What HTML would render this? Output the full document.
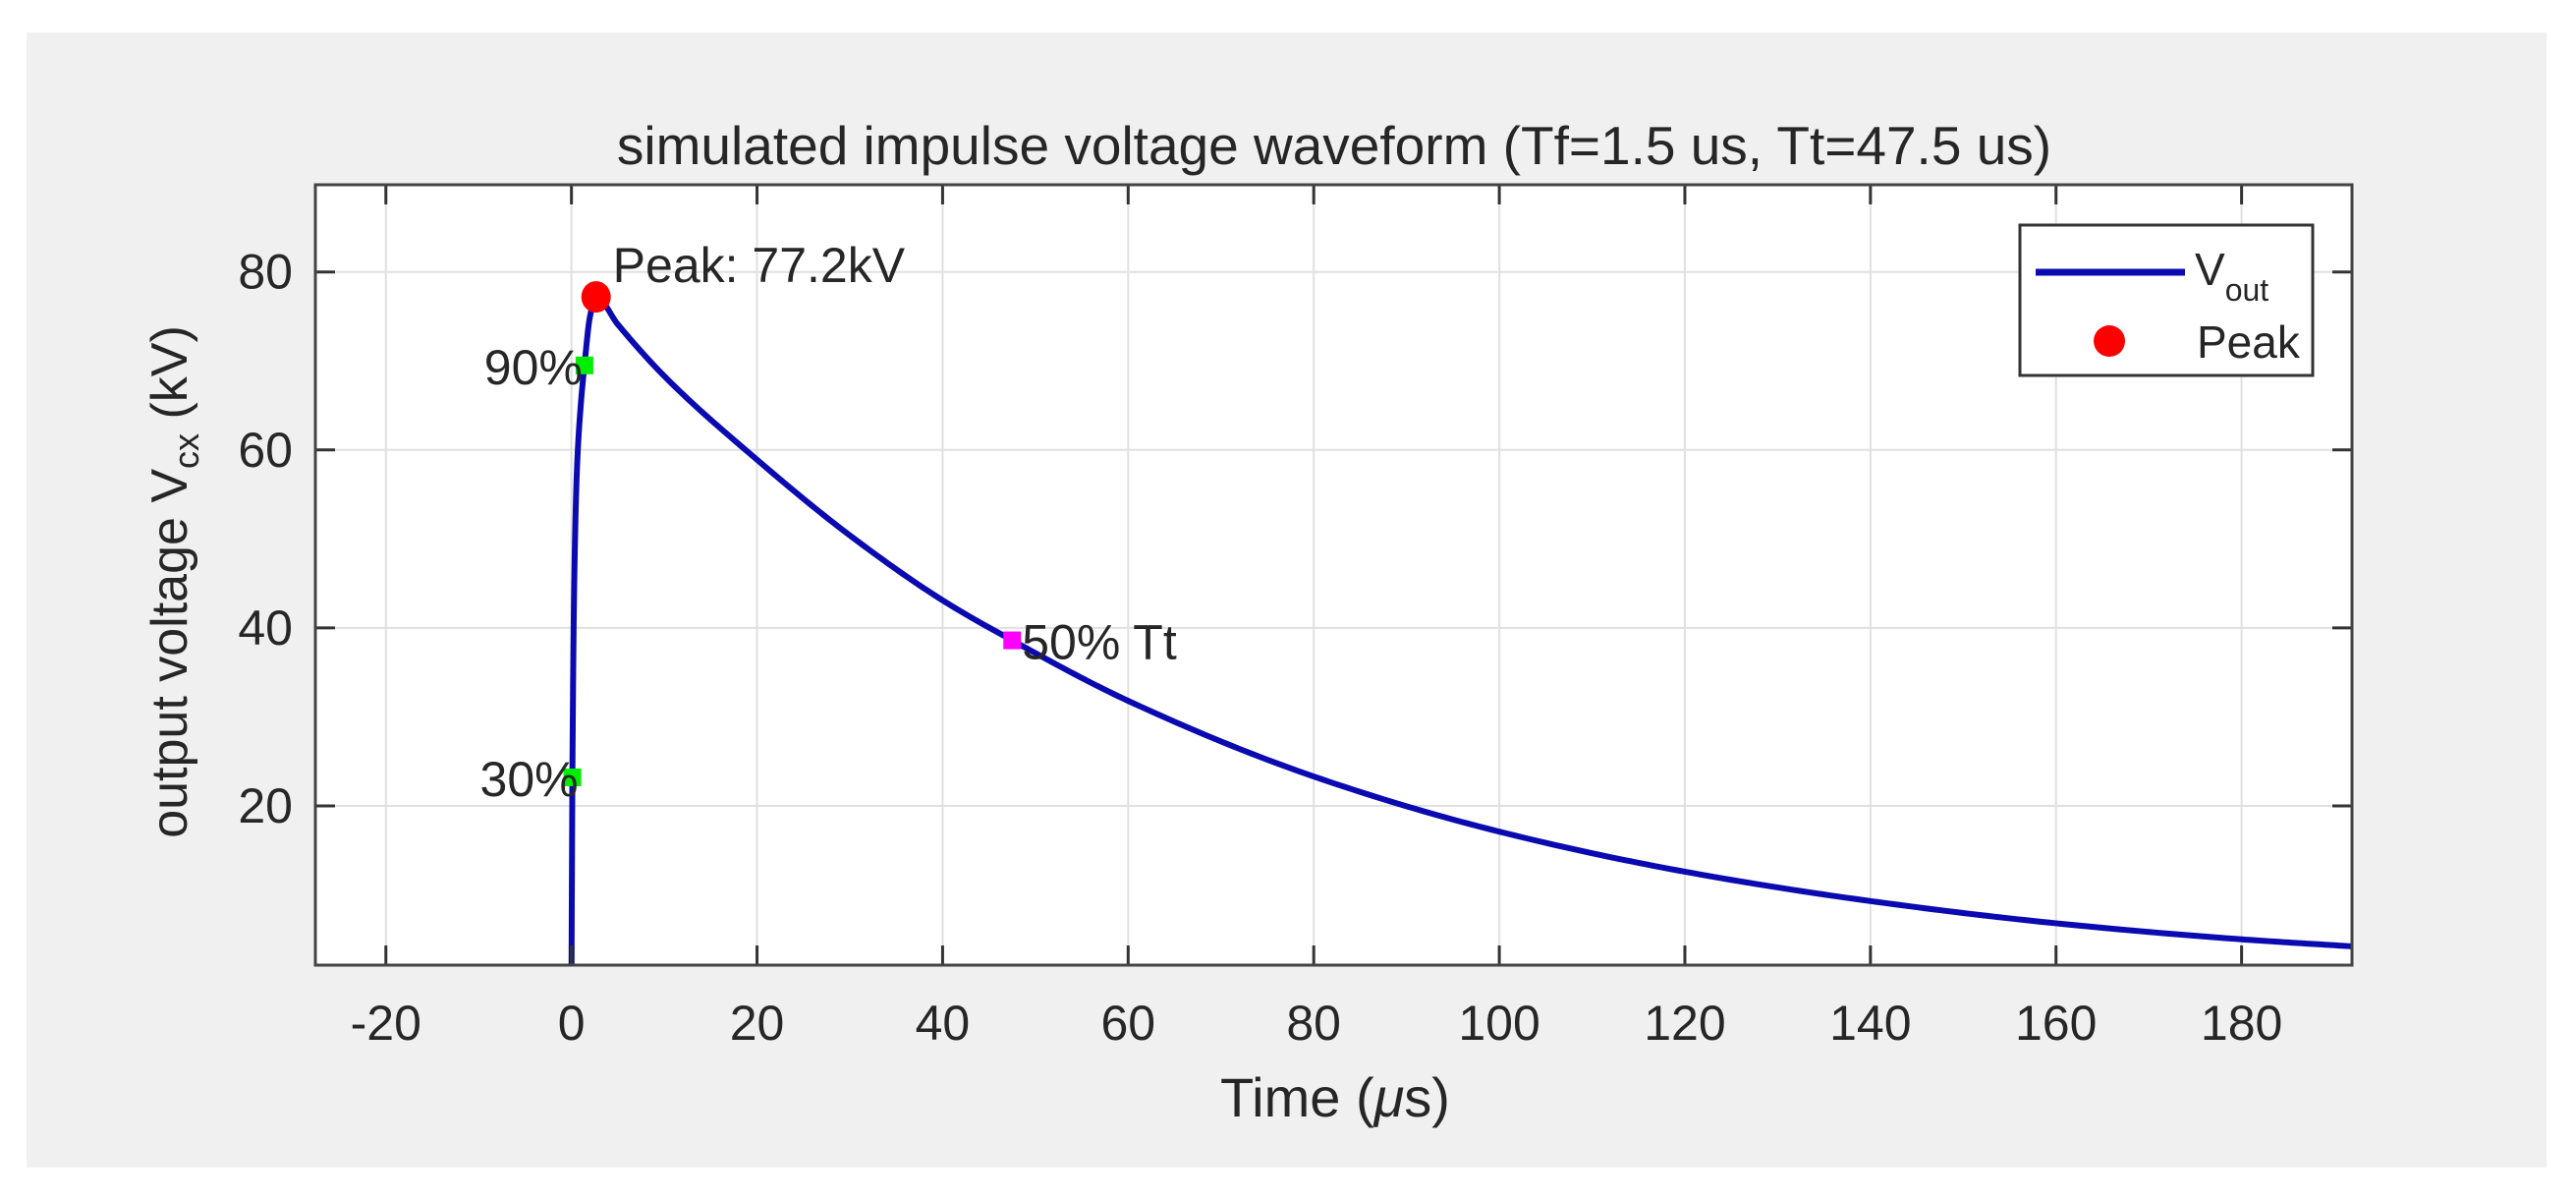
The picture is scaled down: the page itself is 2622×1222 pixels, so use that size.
<!DOCTYPE html>
<html><head><meta charset="utf-8"><style>
html,body{margin:0;padding:0;background:#fff;}
svg{display:block;font-family:"Liberation Sans",sans-serif;}
</style></head><body>
<svg id="chart" width="2622" height="1222" viewBox="0 0 2622 1222" xmlns="http://www.w3.org/2000/svg">
<rect x="27" y="33" width="2565" height="1155" fill="#f0f0f0"/>
<rect x="321" y="188" width="2073" height="794" fill="#ffffff"/>
<g id="grid"></g>
<g id="series"></g>
<g id="axes"></g>
<text x="1358" y="167" font-size="55" text-anchor="middle" fill="#262626">simulated impulse voltage waveform (Tf=1.5 us, Tt=47.5 us)</text>
<text x="1359" y="1136" font-size="56" text-anchor="middle" fill="#262626">Time (<tspan font-style="italic">μ</tspan>s)</text>
<text transform="translate(190,592) rotate(-90)" font-size="52" text-anchor="middle" fill="#262626">output voltage V<tspan font-size="36" dy="12">cx</tspan><tspan dy="-12"> (kV)</tspan></text>
<g>
<rect x="2056" y="229" width="298" height="153" fill="#fff" stroke="#333" stroke-width="3"/>
<line x1="2072" y1="277" x2="2224" y2="277" stroke="#0a0ab0" stroke-width="7"/>
<text x="2234" y="290" font-size="46" fill="#262626">V<tspan font-size="32" dy="16">out</tspan></text>
<circle cx="2147" cy="347" r="16" fill="#ff0000"/>
<text x="2236" y="364" font-size="46" fill="#262626">Peak</text>
</g>
</svg>
<script>
const timeUs = [0, 0.05, 0.1, 0.3, 0.6, 1, 1.4, 2, 2.65, 5, 10, 20, 30, 40, 47.5, 60, 80, 100, 120, 140, 160, 180, 192];
const voltKv = [0, 12, 23.2, 45, 58, 65, 69.5, 75, 77.2, 74.1, 68.3, 58.9, 50.4, 43.1, 38.6, 31.8, 23.3, 17.1, 12.6, 9.3, 6.8, 5.0, 4.2];
const xTicks = [-20, 0, 20, 40, 60, 80, 100, 120, 140, 160, 180];
const yTicks = [20, 40, 60, 80];
const peakPoint = [2.65, 77.2];
const p90Point = [1.4, 69.5];
const p30Point = [0.1, 23.2];
const p50Point = [47.5, 38.6];

const NS = "http://www.w3.org/2000/svg";
const L = 321, R = 2394, T = 188, B = 982;
const xMin = -27.6, xMax = 191.9, yMin = 2.1, yMax = 89.8;
const xs = v => L + (v - xMin) / (xMax - xMin) * (R - L);
const ys = v => B - (v - yMin) / (yMax - yMin) * (B - T);
function mk(tag, attrs, parent) {
  const e = document.createElementNS(NS, tag);
  for (const k in attrs) e.setAttribute(k, attrs[k]);
  parent.appendChild(e);
  return e;
}
const grid = document.getElementById('grid');
const axes = document.getElementById('axes');
const series = document.getElementById('series');

xTicks.forEach(t => {
  const x = xs(t);
  const g = mk('line', {x1: x, y1: T, x2: x, y2: B, stroke: '#e0e0e0', 'stroke-width': 2}, grid);
  
  
  const tk1 = mk('line', {x1: x, y1: B, x2: x, y2: B - 20, stroke: '#333', 'stroke-width': 3}, axes);
  
  
  const tk2 = mk('line', {x1: x, y1: T, x2: x, y2: T + 20, stroke: '#333', 'stroke-width': 3}, axes);
  
  
  const lb = mk('text', {x: x, y: 1058, 'font-size': 50, 'text-anchor': 'middle', fill: '#262626'}, axes);
  lb.textContent = String(t);
  
  
});
yTicks.forEach(t => {
  const y = ys(t);
  const g = mk('line', {x1: L, y1: y, x2: R, y2: y, stroke: '#e0e0e0', 'stroke-width': 2}, grid);
  
  
  const tk1 = mk('line', {x1: L, y1: y, x2: L + 20, y2: y, stroke: '#333', 'stroke-width': 3}, axes);
  
  
  const tk2 = mk('line', {x1: R, y1: y, x2: R - 20, y2: y, stroke: '#333', 'stroke-width': 3}, axes);
  
  
  const lb = mk('text', {x: 298, y: y + 17, 'font-size': 50, 'text-anchor': 'end', fill: '#262626'}, axes);
  lb.textContent = String(t);
  
  
});
const box = mk('rect', {x: L, y: T, width: R - L, height: B - T, fill: 'none', stroke: '#444', 'stroke-width': 3}, axes);



// monotone cubic (Fritsch-Carlson) interpolation through the data points
function monotone(xa, ya) {
  const n = xa.length, d = [], m = new Array(n);
  for (let i = 0; i < n - 1; i++) d.push((ya[i + 1] - ya[i]) / (xa[i + 1] - xa[i]));
  m[0] = d[0]; m[n - 1] = d[n - 2];
  for (let i = 1; i < n - 1; i++) {
    if (d[i - 1] * d[i] <= 0) m[i] = 0;
    else {
      const h0 = xa[i] - xa[i - 1], h1 = xa[i + 1] - xa[i];
      const w1 = 2 * h1 + h0, w2 = h1 + 2 * h0;
      m[i] = (w1 + w2) / (w1 / d[i - 1] + w2 / d[i]);
    }
  }
  const pts = [];
  for (let i = 0; i < n - 1; i++) {
    const h = xa[i + 1] - xa[i], steps = 24;
    for (let k = 0; k < steps; k++) {
      const s = k / steps, s2 = s * s, s3 = s2 * s;
      const y = (2 * s3 - 3 * s2 + 1) * ya[i] + (s3 - 2 * s2 + s) * h * m[i] + (-2 * s3 + 3 * s2) * ya[i + 1] + (s3 - s2) * h * m[i + 1];
      pts.push([xa[i] + s * h, y]);
    }
  }
  pts.push([xa[n - 1], ya[n - 1]]);
  return pts;
}
const cp = mk('clipPath', {id: 'clip'}, series);
mk('rect', {x: L, y: T, width: R - L, height: B - T}, cp);
const pts = monotone(timeUs, voltKv);
const d = pts.map((p, i) => (i ? 'L' : 'M') + xs(p[0]).toFixed(2) + ',' + ys(p[1]).toFixed(2)).join(' ');
const line = mk('path', {d: d, fill: 'none', stroke: '#0a0ab0', 'stroke-width': 6, 'stroke-linejoin': 'round', 'clip-path': 'url(#clip)'}, series);



function sq(p, color, name) {
  const s = mk('rect', {x: xs(p[0]) - 9, y: ys(p[1]) - 9, width: 18, height: 18, fill: color}, series);
  
  
}
sq(p90Point, '#00ee00', 'marker-90pct');
sq(p30Point, '#00ee00', 'marker-30pct');
sq(p50Point, '#ff00ff', 'marker-50pct-tt');
const pk = mk('ellipse', {cx: xs(peakPoint[0]), cy: ys(peakPoint[1]), rx: 15, ry: 16, fill: '#ff0000'}, series);



function lab(txt, x, y, name, anchor) {
  const t = mk('text', {x: x, y: y, 'font-size': 50, fill: '#262626', 'text-anchor': anchor || 'start'}, series);
  t.textContent = txt;
  
  
}
lab('Peak: 77.2kV', xs(peakPoint[0]) + 17, ys(peakPoint[1]) - 15, 'peak-annotation');
lab('90%', xs(p90Point[0]) - 2, ys(p90Point[1]) + 19, '90pct-annotation', 'end');
lab('30%', xs(p30Point[0]) + 6, ys(p30Point[1]) + 19, '30pct-annotation', 'end');
lab('50% Tt', xs(p50Point[0]) + 10, ys(p50Point[1]) + 19, '50pct-annotation');
</script>
</body></html>
